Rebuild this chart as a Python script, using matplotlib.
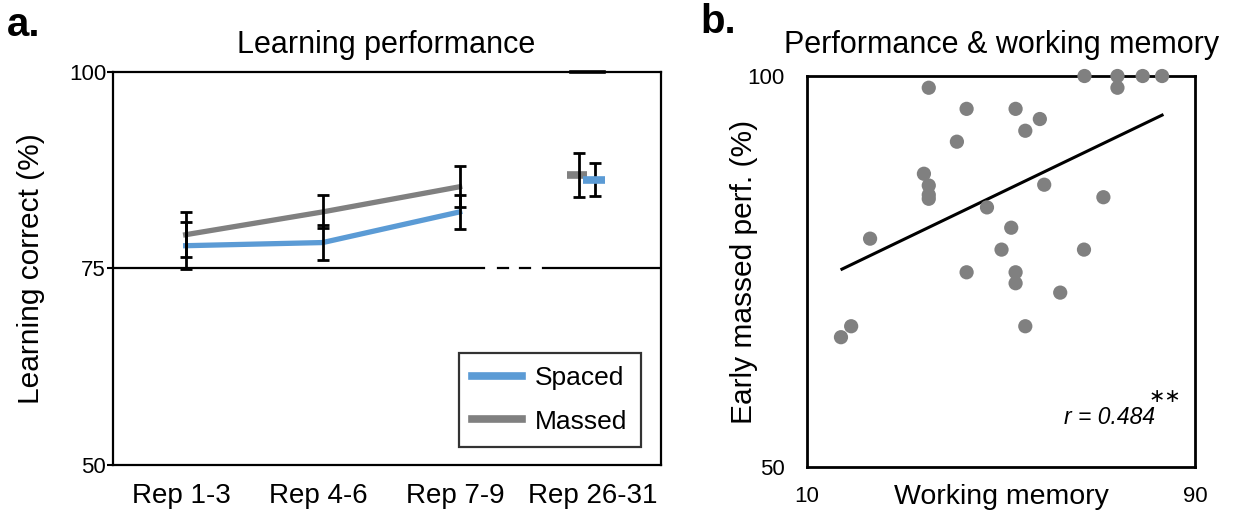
import numpy as np
import matplotlib
matplotlib.use("Agg")
import matplotlib.pyplot as plt

plt.rcParams['font.family'] = ['Liberation Sans', 'DejaVu Sans']

# ---- panel a data ----
reps = ["Rep 1-3", "Rep 4-6", "Rep 7-9", "Rep 26-31"]
spaced_mean = [77.9, 78.3, 82.2]
spaced_err = [3.0, 2.2, 2.2]
massed_mean = [79.3, 82.2, 85.4]
massed_err = [2.9, 2.1, 2.6]
late_spaced_mean = 86.3
late_spaced_err = 2.1
late_massed_mean = 86.9
late_massed_err = 2.8

# ---- panel b data ----
wm = [67.2, 74.0, 79.2, 83.2, 74.0, 35.1, 42.9, 53.0, 58.0, 55.0,
      40.9, 34.1, 35.1, 35.1, 35.1, 58.9, 71.1, 47.1, 52.1, 23.0,
      50.1, 67.1, 42.9, 53.0, 53.0, 62.2, 55.0, 19.1, 17.0]
perf = [100.0, 100.0, 100.0, 100.0, 98.5, 98.5, 95.8, 95.8, 94.5, 93.0,
        91.6, 87.5, 86.0, 84.8, 84.3, 86.1, 84.5, 83.2, 80.6, 79.2,
        77.8, 77.8, 74.9, 74.9, 73.5, 72.3, 68.0, 68.0, 66.6]
fit_x = [17.2, 83.2]
fit_y = [75.3, 95.0]

blue = "#5b9bd5"
gray = "#808080"

fig = plt.figure(figsize=(12.37, 5.15), dpi=100)
ax1 = fig.add_axes([0.0914, 0.0971, 0.443, 0.7631])
ax2 = fig.add_axes([0.6524, 0.0932, 0.3137, 0.7592])

ebar = dict(fmt="none", ecolor="black", elinewidth=2.0, capsize=4.2,
            capthick=2.0, zorder=4)

# ---- panel a ----
x = np.arange(3) + 0.53
ax1.plot(x, massed_mean, color=gray, lw=3.8, label="Massed", zorder=3)
ax1.plot(x, spaced_mean, color=blue, lw=3.8, label="Spaced", zorder=3)
ax1.errorbar(x, massed_mean, yerr=massed_err, **ebar)
ax1.errorbar(x, spaced_mean, yerr=spaced_err, **ebar)

# late repetitions
ax1.errorbar([3.40], [late_massed_mean], yerr=[late_massed_err], **ebar)
ax1.errorbar([3.515], [late_spaced_mean], yerr=[late_spaced_err], **ebar)
ax1.plot([3.31, 3.46], [late_massed_mean] * 2, color=gray, lw=5.5,
         solid_capstyle="butt", zorder=3)
ax1.plot([3.43, 3.59], [late_spaced_mean] * 2, color=blue, lw=5.5,
         solid_capstyle="butt", zorder=5)

# chance line at 75 with axis break
ax1.plot([0, 2.71], [75, 75], color="black", lw=1.6, zorder=2)
ax1.plot([2.81, 2.88], [75, 75], color="black", lw=1.6, zorder=2)
ax1.plot([2.97, 3.04], [75, 75], color="black", lw=1.6, zorder=2)
ax1.plot([3.14, 4.0], [75, 75], color="black", lw=1.6, zorder=2)
ax1.plot([3.34, 3.58], [100, 100], color="black", lw=2.6, zorder=6, clip_on=False)

ax1.set_xlim(0, 4)
ax1.set_ylim(50, 100)
ax1.set_xticks(np.arange(4) + 0.5)
ax1.set_xticklabels(reps, fontsize=20)
ax1.set_yticks([50, 75, 100])
ax1.set_yticklabels(["50", "75", "100"], fontsize=16)
ax1.tick_params(axis="x", length=0, pad=13)
ax1.tick_params(axis="y", length=4, width=1.5, pad=1)
for s in ax1.spines.values():
    s.set_linewidth(1.6)
ax1.set_ylabel("Learning correct (%)", fontsize=21.5)
ax1.yaxis.set_label_coords(-0.124, 0.5)

handles, labels = ax1.get_legend_handles_labels()
leg = ax1.legend(handles[::-1], labels[::-1], loc="lower right",
                 bbox_to_anchor=(0.963, 0.046), borderaxespad=0,
                 fontsize=19, frameon=True, fancybox=False,
                 handlelength=1.9, borderpad=0.5, labelspacing=0.75,
                 handletextpad=0.5)
leg.get_frame().set_edgecolor("black")
leg.get_frame().set_linewidth(1.6)
for h in leg.get_lines():
    h.set_linewidth(5.5)

# ---- panel b ----
ax2.scatter(wm, perf, s=105, color=gray, edgecolors="none", zorder=3, clip_on=False)
ax2.plot(fit_x, fit_y, color="black", lw=2.2, zorder=2)
ax2.set_xlim(10, 90)
ax2.set_ylim(50, 100)
ax2.set_xticks([10, 90])
ax2.set_yticks([50, 100])
ax2.tick_params(axis="both", length=0, labelsize=16)
ax2.tick_params(axis="x", pad=14)
ax2.tick_params(axis="y", pad=16)
for s in ax2.spines.values():
    s.set_linewidth(2)
ax2.set_xlabel("Working memory", fontsize=20.5)
ax2.xaxis.set_label_coords(0.5, -0.077)
ax2.xaxis.label.set_va("center")
ax2.set_ylabel("Early massed perf. (%)", fontsize=21.5)
ax2.yaxis.set_label_coords(-0.126, 0.5)
ax2.text(81.8, 56.3, "r = 0.484", fontsize=16.5, style="italic",
         ha="right", va="center")
ax2.text(83.8, 59.0, "∗∗", fontsize=14, ha="center", va="center",
         family=["DejaVu Sans"])

# titles and panel letters
fig.text(386 / 1237, 1 - 45 / 515, "Learning performance", fontsize=22,
         ha="center", va="center")
fig.text(1002 / 1237, 1 - 45 / 515, "Performance & working memory", fontsize=22,
         ha="center", va="center")
fig.text(24 / 1237, 1 - 25 / 515, "a.", fontsize=29, fontweight="bold",
         ha="center", va="center")
fig.text(718 / 1237, 1 - 22 / 515, "b.", fontsize=29, fontweight="bold",
         ha="center", va="center")

fig.savefig("out.png", dpi=100)
